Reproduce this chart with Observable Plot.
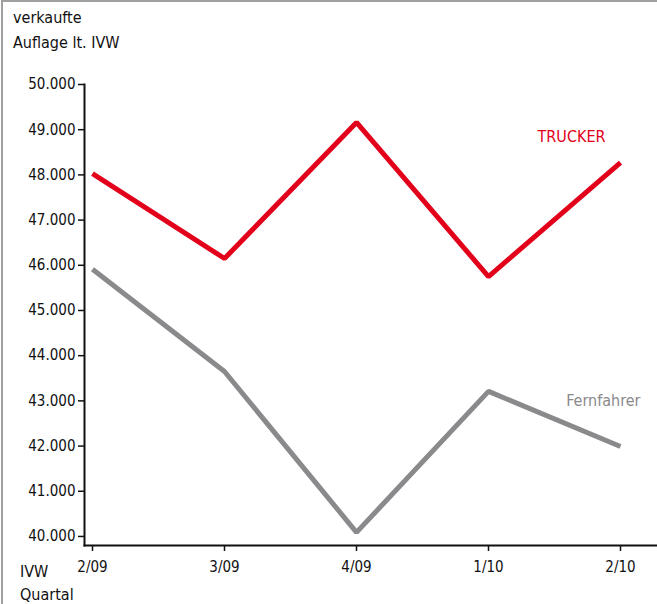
<!DOCTYPE html>
<html>
<head>
<meta charset="utf-8">
<script src="https://cdn.jsdelivr.net/npm/d3@7"></script>
<script src="https://cdn.jsdelivr.net/npm/@observablehq/plot@0.6"></script>
<style>
  html, body { margin: 0; padding: 0; background: #fff; }
  #wrap { position: relative; width: 657px; height: 604px; overflow: hidden;
          font-family: "Liberation Sans Narrow", "DejaVu Sans Condensed", sans-serif; color: #111; }
  #wrap .border { position: absolute; left: 1px; top: 0; width: 700px; height: 700px;
          border-top: 2px solid #a0a0a0; border-left: 2px solid #a0a0a0; box-sizing: border-box; }
  #title { position: absolute; left: 13px; top: 5px; font-size: 16px; line-height: 25px; }
  #xlab { position: absolute; left: 20px; top: 560px; font-size: 16px; line-height: 23px; }
  #chart { position: absolute; left: 0; top: 0; }
</style>
</head>
<body>
<div id="wrap">
  <div class="border"></div>
  <div id="chart"></div>
  <div id="title">verkaufte<br>Auflage lt. IVW</div>
  <div id="xlab">IVW<br>Quartal</div>
</div>
<script>
const quarters = ["2/09", "3/09", "4/09", "1/10", "2/10"];
const trucker = [48030, 46150, 49160, 45750, 48270];
const fernfahrer = [45910, 43650, 40090, 43210, 41990];
const yTicks = [40000, 41000, 42000, 43000, 44000, 45000, 46000, 47000, 48000, 49000, 50000];

const rows = [
  ...quarters.map((q, i) => ({q, v: trucker[i], s: "TRUCKER"})),
  ...quarters.map((q, i) => ({q, v: fernfahrer[i], s: "Fernfahrer"}))
];
const fmt = d => d3.format(",")(d).replace(/,/g, ".");
const red = "#e2001a", gray = "#8a8a8c";

const plot = Plot.plot({
  width: 657,
  height: 604,
  marginTop: 84,
  marginBottom: 59,
  marginLeft: 84,
  marginRight: 0,
  style: {fontFamily: '"Liberation Sans Narrow", "DejaVu Sans Condensed", sans-serif', fontSize: "15px", background: "transparent", color: "#111"},
  x: {type: "point", domain: quarters, range: [91, 621], padding: 0},
  y: {domain: [39800, 50000]},
  marks: [
    Plot.frame({anchor: "left", stroke: "#111", strokeWidth: 2}),
    Plot.frame({anchor: "bottom", stroke: "#111", strokeWidth: 2}),
    Plot.axisY({ticks: yTicks, tickFormat: fmt, tickSize: 6, tickPadding: 3, label: null, strokeWidth: 1.5, fontSize: 15}),
    Plot.axisX({tickSize: 6, tickPadding: 10, label: null, strokeWidth: 1.5, fontSize: 15}),
    Plot.line(rows, {x: "q", y: "v", z: "s", stroke: d => d.s === "TRUCKER" ? red : gray, strokeWidth: 5, strokeLinejoin: "miter", strokeLinecap: "butt"}),
    Plot.text(rows.filter(d => d.s === "TRUCKER" && d.q === quarters[quarters.length - 1]),
      {x: "q", y: "v", text: "s", fill: red, textAnchor: "end", dx: -15, dy: -26, fontSize: 16}),
    Plot.text(rows.filter(d => d.s === "Fernfahrer" && d.q === quarters[quarters.length - 1]),
      {x: "q", y: "v", text: "s", fill: gray, textAnchor: "end", dx: 20, dy: -46, fontSize: 16})
  ]
});
document.getElementById("chart").appendChild(plot);
</script>
</body>
</html>
